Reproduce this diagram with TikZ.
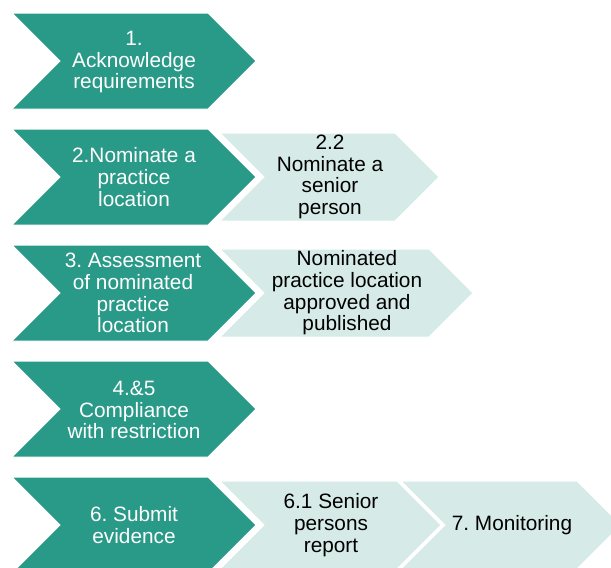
\documentclass[tikz,border=0pt]{standalone}
\usepackage{fontspec}
\setmainfont{Liberation Sans}
\frenchspacing
\definecolor{teal1}{RGB}{41,153,136}
\definecolor{lightteal}{RGB}{214,235,231}
\newcommand\mychev[5]{% #1 style, #2 left, #3 tip, #4 top, #5 height
  \filldraw[#1] (#2,#4) -- ({#3-#5/2},#4) -- (#3,{#4+#5/2}) -- ({#3-#5/2},{#4+#5}) -- (#2,{#4+#5}) -- ({#2+#5/2},{#4+#5/2}) -- cycle;}
\tikzset{
  darkchev/.style={fill=teal1,draw=white,line width=1pt,line join=miter},
  lightchev/.style={fill=lightteal,draw=white,line width=1pt,line join=miter},
  txt/.style={align=center,inner sep=0pt,font=\fontsize{20.8}{21.7}\selectfont\frenchspacing},
  darktxt/.style={txt,text=white},
  lighttxt/.style={txt,text=black}
}
\begin{document}
\begin{tikzpicture}[x=1pt,y=-1pt]
\useasboundingbox (0,0) rectangle (611,568);
\clip (0,0) rectangle (611,568);
% light chevrons
\mychev{lightchev}{220}{439}{133}{88}
\mychev{lightchev}{220}{473}{249}{88}
\mychev{lightchev}{220}{441}{481}{88}
\mychev{lightchev}{401}{621}{481}{88}
% dark chevrons
\mychev{darkchev}{12}{256}{13}{96}
\mychev{darkchev}{12}{256}{129}{96}
\mychev{darkchev}{12}{256}{245}{96}
\mychev{darkchev}{12}{256}{361}{96}
\mychev{darkchev}{12}{256}{477}{96}
% texts
\node[darktxt] (s1) at (134,62) {1.\\Acknowledge\\requirements};
\node[darktxt] (s2) at (134,177) {2.Nominate a\\practice\\location};
\node[darktxt] (s3) at (133,293) {3. Assessment\\of nominated\\practice\\location};
\node[darktxt] (s4) at (134,410) {4.\&5\\Compliance\\with restriction};
\node[darktxt] (s6) at (134,525) {6. Submit\\evidence};
\node[lighttxt] (s22) at (330,177) {2.2\\Nominate a\\senior\\person};
\node[lighttxt] (sapp) at (347,293) {Nominated\\practice location\\approved and\\published};
\node[lighttxt] (s61) at (331,525) {6.1 Senior\\persons\\report};
\node[lighttxt] (s7) at (512,525) {7. Monitoring};
\end{tikzpicture}
\end{document}
